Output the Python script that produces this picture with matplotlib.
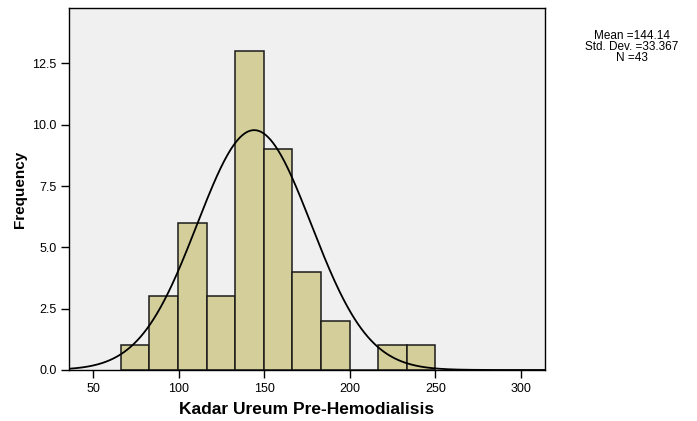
import numpy as np
import matplotlib
matplotlib.use("agg")
import matplotlib.pyplot as plt

# histogram data
bin_start = 66.2
bin_width = 16.71
counts = [1, 3, 6, 3, 13, 9, 4, 2, 0, 1, 1]

# summary stats shown in the legend
mean = 144.14
std_dev = 33.367
n_obs = 43
curve_peak = 9.78  # height of the fitted normal curve as drawn

x_ticks = [50, 100, 150, 200, 250, 300]
y_ticks = [0.0, 2.5, 5.0, 7.5, 10.0, 12.5]

plt.rcParams["font.family"] = ["Liberation Sans", "DejaVu Sans"]

fig = plt.figure(figsize=(6.97, 4.21), dpi=100)
ax = fig.add_axes([69 / 697, 51 / 421, 476 / 697, 362 / 421])
ax.set_facecolor("#f0f0f0")

edges = bin_start + bin_width * np.arange(len(counts) + 1)
ax.bar(edges[:-1], counts, width=bin_width, align="edge",
       color="#d3ce9a", edgecolor="#1a1a1a", linewidth=1.1, zorder=2)

xs = np.linspace(36, 314, 600)
ys = curve_peak * np.exp(-0.5 * ((xs - mean) / std_dev) ** 2)
ax.plot(xs, ys, color="black", linewidth=1.3, zorder=3)

ax.set_xlim(36.0, 314.0)
ax.set_ylim(0, 14.76)
ax.set_xticks(x_ticks)
ax.set_yticks(y_ticks)
ax.set_yticklabels(["{:.1f}".format(v) for v in y_ticks])
ax.tick_params(axis="both", direction="out", length=6, width=1.0,
               labelsize=9, colors="black", pad=3)
for s in ax.spines.values():
    s.set_linewidth(1.0)

ax.set_xlabel("Kadar Ureum Pre-Hemodialisis", fontsize=12.5, fontweight="bold")
ax.xaxis.set_label_coords(0.5, -0.108)
ax.xaxis.label.set_va("center")
ax.set_ylabel("Frequency", fontsize=11, fontweight="bold")
ax.yaxis.set_label_coords(-0.102, 0.5)
ax.yaxis.label.set_va("center")

fig.text(632 / 697, 1 - 47 / 421,
         "Mean ={:.2f}\nStd. Dev. ={}\nN ={}".format(mean, std_dev, n_obs),
         ha="center", va="center", fontsize=8.5, linespacing=0.9)

fig.savefig("out.png", dpi=100)
